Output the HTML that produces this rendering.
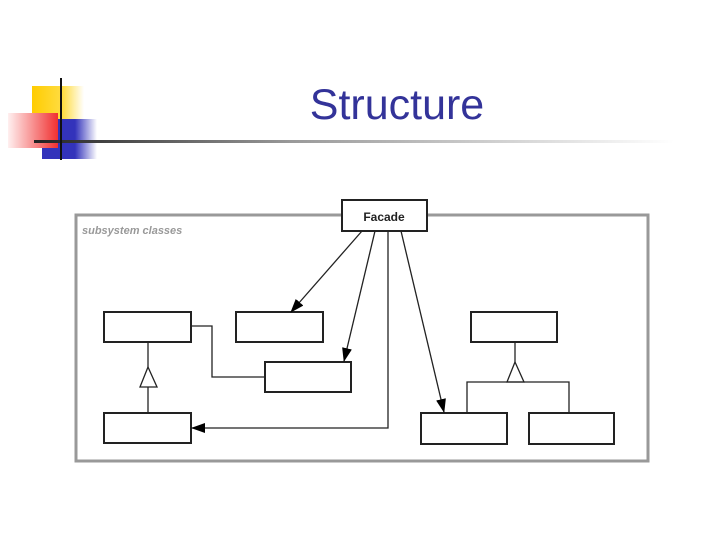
<!DOCTYPE html>
<html><head><style>
body{margin:0;width:720px;height:540px;background:#fff;overflow:hidden;position:relative;font-family:"Liberation Sans",sans-serif}
</style></head><body>
<svg width="720" height="540" style="position:absolute;left:0;top:0">
<defs>
<linearGradient id="ln" x1="0" x2="1"><stop offset="0" stop-color="#222"/><stop offset="0.4" stop-color="#999"/><stop offset="1" stop-color="#fff"/></linearGradient>
<linearGradient id="rd" x1="1" x2="0"><stop offset="0" stop-color="#f03030"/><stop offset="1" stop-color="#fff0f0"/></linearGradient>
<linearGradient id="bl" x1="0" x2="1"><stop offset="0" stop-color="#3333bb"/><stop offset="0.6" stop-color="#3333bb"/><stop offset="1" stop-color="#fff"/></linearGradient>
<linearGradient id="yl" x1="0" x2="1"><stop offset="0" stop-color="#ffcc00"/><stop offset="0.6" stop-color="#ffdd44"/><stop offset="1" stop-color="#fff"/></linearGradient>
<marker id="ah" markerWidth="14" markerHeight="12" refX="13" refY="5" orient="auto" markerUnits="userSpaceOnUse"><path d="M0,0 L14,5 L0,10 Z" fill="#000"/></marker>
</defs>
<rect x="32" y="86" width="52" height="50" fill="url(#yl)"/>
<rect x="42" y="119" width="55" height="40" fill="url(#bl)"/>
<rect x="8" y="113" width="50" height="35" fill="url(#rd)"/>
<rect x="34" y="140" width="640" height="3" fill="url(#ln)"/>
<rect x="60" y="78" width="2" height="82" fill="#111"/>
<text x="397" y="119" font-size="43" fill="#333399" text-anchor="middle" font-family="Liberation Sans, sans-serif">Structure</text>

<rect x="76" y="215" width="572" height="246" fill="none" stroke="#999" stroke-width="3"/>
<text x="82" y="234" font-size="11" font-style="italic" fill="#999" font-weight="bold">subsystem classes</text>
<g fill="#fff" stroke="#222" stroke-width="2">
<rect x="342" y="200" width="85" height="31"/>
<rect x="104" y="312" width="87" height="30"/>
<rect x="236" y="312" width="87" height="30"/>
<rect x="265" y="362" width="86" height="30"/>
<rect x="104" y="413" width="87" height="30"/>
<rect x="471" y="312" width="86" height="30"/>
<rect x="421" y="413" width="86" height="31"/>
<rect x="529" y="413" width="85" height="31"/>
</g>
<text x="384" y="221" font-size="12" font-weight="bold" text-anchor="middle" fill="#222">Facade</text>
<g fill="none" stroke="#222" stroke-width="1.3">
<polyline points="191,326 212,326 212,377 265,377"/>
<line x1="148" y1="342" x2="148" y2="367"/>
<line x1="148" y1="387" x2="148" y2="413"/>
<polygon points="148,367 140,387 157,387" fill="#fff"/>
<line x1="515" y1="342" x2="515" y2="362"/>
<polygon points="515,362 507,382 524,382" fill="#fff"/>
<polyline points="467,413 467,382 569,382 569,413"/>
<line x1="362" y1="231" x2="291" y2="312" marker-end="url(#ah)"/>
<line x1="375" y1="231" x2="344" y2="361" marker-end="url(#ah)"/>
<polyline points="388,231 388,428 192,428" marker-end="url(#ah)"/>
<line x1="401" y1="231" x2="444" y2="412" marker-end="url(#ah)"/>
</g>
</svg>
</body></html>
